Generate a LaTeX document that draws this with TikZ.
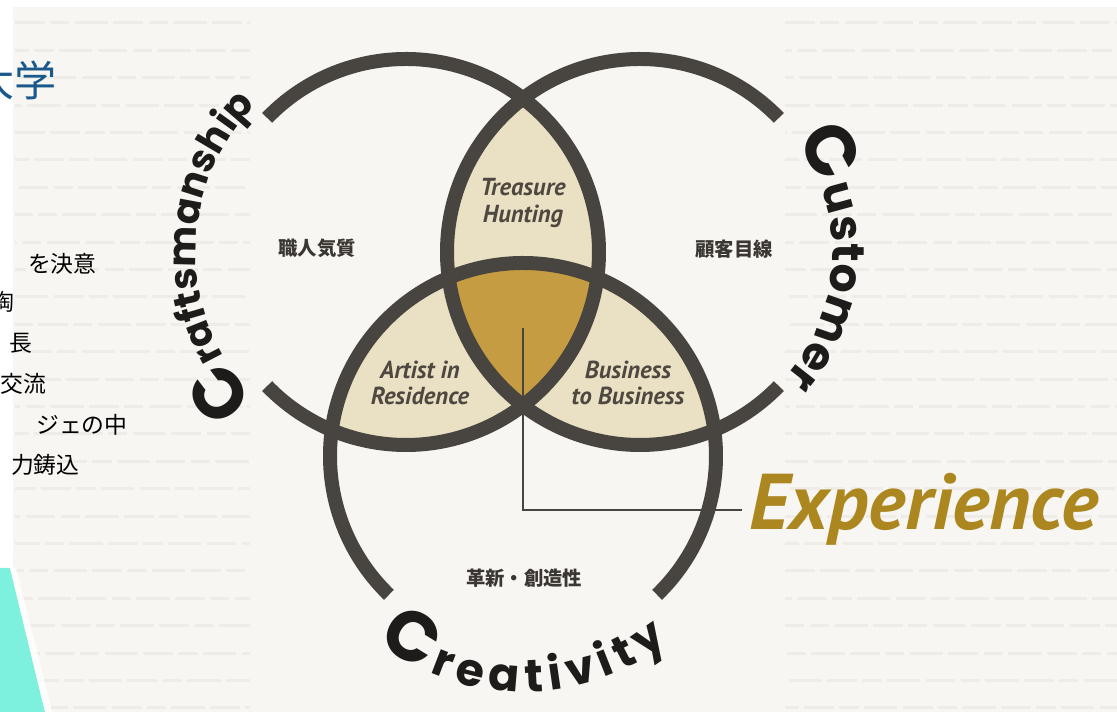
\documentclass[tikz,border=0pt]{standalone}
\usepackage{fontspec}
\usetikzlibrary{calc,decorations.text}
\setmainfont{PT Sans}
\newfontfamily\jpfont{Noto Sans CJK JP}
\newfontfamily\ringfont{Poppins}
\definecolor{paper}{RGB}{248,246,242}
\definecolor{paperline}{RGB}{239,236,231}
\definecolor{ringgray}{RGB}{72,68,64}
\definecolor{cream}{RGB}{234,225,197}
\definecolor{ochre}{RGB}{198,156,66}
\definecolor{lensgray}{RGB}{78,72,64}
\definecolor{jpgray}{RGB}{58,54,50}
\definecolor{ink}{RGB}{30,28,26}
\definecolor{expgold}{RGB}{172,134,30}
\definecolor{titleblue}{RGB}{26,88,140}
\definecolor{tealpop}{RGB}{125,240,222}
\tikzstyle{ring} = [line width=0.28cm, draw=ringgray]
\tikzstyle{lens} = [font=\bfseries\itshape\fontsize{14}{15}\selectfont, text=lensgray, align=center]
\tikzstyle{trait} = [font=\jpfont\bfseries\fontsize{11}{11}\selectfont, text=jpgray]
\tikzstyle{memo} = [font=\jpfont\fontsize{13}{13}\selectfont, anchor=east, inner sep=0]
\tikzstyle{link} = [line width=1.1pt, draw=ringgray]
\tikzstyle{bgline} = [line width=1.7pt, draw=paperline, dash pattern=on 17pt off 3pt on 11pt off 3pt on 19pt off 3pt]
\newcommand\bigC{\ringfont\bfseries\fontsize{40}{40}\selectfont}
\newcommand\ringword{\ringfont\bfseries\fontsize{22}{22}\selectfont}
\newcommand\ringwide{\ringfont\bfseries\fontsize{26}{26}\selectfont}

\begin{document}
\begin{tikzpicture}[x=0.02cm, y=0.02cm]
	\useasboundingbox (0,0) rectangle (1117,712);
	\fill[white] (0,0) rectangle (1117,712);
	\fill[paper] (13,0) rectangle (1117,705);
	\foreach \k in {0,...,25} {
		\draw[bgline, dash phase=\k*9pt] ({15},{689-27.4*\k}) -- ({250},{689-27.4*\k});
		\draw[bgline, dash phase=\k*13pt] ({785},{689-27.4*\k}) -- ({1117},{689-27.4*\k});
	}
	\fill[tealpop] (0,0) -- (45,0) -- (10,144) -- (0,144) -- cycle;
	\fill[white, opacity=0.8] (45,0) -- (52,0) -- (16,144) -- (10,144) -- cycle;

	\coordinate (craft) at (406,460);
	\coordinate (cust) at (640,460);
	\coordinate (crea) at (523,256);

	\begin{scope}
		\clip (craft) circle[radius=193];
		\fill[cream] (cust) circle[radius=193];
		\fill[cream] (crea) circle[radius=193];
	\end{scope}
	\begin{scope}
		\clip (cust) circle[radius=193];
		\fill[cream] (crea) circle[radius=193];
		\clip (craft) circle[radius=193];
		\fill[ochre] (crea) circle[radius=193];
	\end{scope}

	\draw[ring] ($(craft)+(136:193)$) arc[start angle=136, end angle=-136, radius=193];
	\draw[ring] ($(cust)+(44:193)$) arc[start angle=44, end angle=316, radius=193];
	\draw[ring] ($(crea)+(-46:193)$) arc[start angle=-46, end angle=226, radius=193];

	\path[decorate, decoration={text along path, text align=center, text color=ink,
		text={|\bigC|C|\ringword|raftsmanship}}]
		($(craft)+(250:210)$) arc[start angle=250, end angle=110, radius=210];
	\path[decorate, decoration={text along path, text align=fit to path, text color=ink,
		text={|\bigC|C|\ringwide|ustomer}}]
		($(cust)+(36:192)$) arc[start angle=36, end angle=-41, radius=192];
	\path[decorate, decoration={text along path, text align=fit to path, text color=ink,
		text={|\bigC|C|\ringwide|reativity}}]
		($(crea)+(232:236)$) arc[start angle=232, end angle=308, radius=236];

	\node[lens] (treasure) at (523,509) {Treasure\\Hunting};
	\node[lens] (artist) at (420,329) {Artist in\\Residence};
	\node[lens] (b2b) at (628,329) {Business\\to Business};

	\node[trait] (craftjp) at (317,464) {職人気質};
	\node[trait] (custjp) at (734,463) {顧客目線};
	\node[trait] (creajp) at (524,134) {革新・創造性};

	\coordinate (hub) at (523,384);
	\node[font=\bfseries\itshape\fontsize{45}{45}\selectfont, text=expgold, anchor=base west,
		inner sep=0, inner xsep=4pt] (exp) at (742,182) {Experience};
	\draw[link] (hub) |- (exp.west);

	\node[font=\jpfont\fontsize{24}{24}\selectfont, text=titleblue, anchor=east, inner sep=0] (title) at (57,632) {大学};
	\node[memo] (m1) at (97,448) {を決意};
	\node[memo] (m2) at (15,410) {陶};
	\node[memo] (m3) at (33,369) {長};
	\node[memo] (m4) at (47,328) {交流};
	\node[memo] (m5) at (128,287) {ジェの中};
	\node[memo] (m6) at (80,247) {力鋳込};
\end{tikzpicture}
\end{document}
